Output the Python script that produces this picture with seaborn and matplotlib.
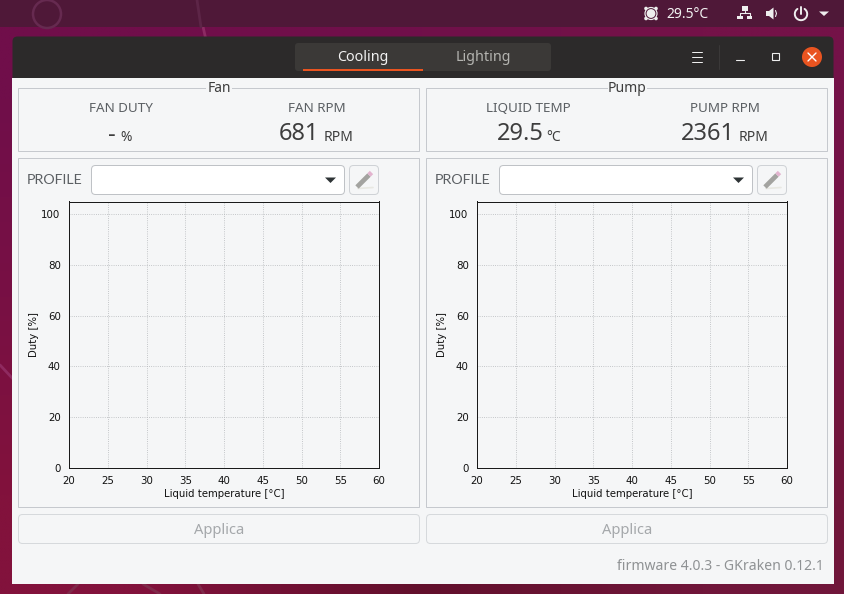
import numpy as np
import pandas as pd
import matplotlib
matplotlib.use('Agg')
import matplotlib.pyplot as plt
from matplotlib.patches import Rectangle, FancyBboxPatch, Circle, Polygon
import seaborn as sns

# curves are empty in the screenshot, no profile selected
fan_temp = []
fan_duty = []
pump_temp = []
pump_duty = []

x_ticks = [20, 25, 30, 35, 40, 45, 50, 55, 60]
y_ticks = [0, 20, 40, 60, 80, 100]

W, H = 844, 594
PANEL = '#f5f6f7'
BORDER = '#c6c9ce'
TEXT = '#3d3d3d'
LABEL = '#5b5f63'
ICON = '#eeeeee'
UI_FONT = ['Noto Sans', 'DejaVu Sans']


def box(bg, x0, y0, x1, y1, fc='none', ec='none', lw=0.72, r=0, z=2):
    if r:
        p = FancyBboxPatch((x0 + r, y0 + r), x1 - x0 - 2 * r, y1 - y0 - 2 * r,
                           boxstyle=f'round,pad={r},rounding_size={r}',
                           fc=fc, ec=ec, lw=lw, zorder=z)
    else:
        p = Rectangle((x0, y0), x1 - x0, y1 - y0, fc=fc, ec=ec, lw=lw, zorder=z)
    bg.add_patch(p)


def disc(bg, x, y, r, fc, z=3):
    bg.add_patch(Circle((x, y), r, fc=fc, ec='none', zorder=z))


def tri(bg, pts, fc, z=5):
    bg.add_patch(Polygon(pts, fc=fc, ec='none', zorder=z))


def label(bg, x, y, s, size=10, color=TEXT, ha='center', font=UI_FONT, z=5):
    bg.text(x, y, s, fontsize=size, color=color, ha=ha, va='center', family=font, zorder=z)


def draw_side(bg, off, title, gap, name1, x1, val1, vx1, unit1, ux1, name2, x2, val2, vx2, unit2, ux2):
    # top group with the title sitting on the frame
    box(bg, off + 18, 88, off + 419, 151, ec=BORDER)
    bg.add_patch(Rectangle((off + 219 - gap / 2, 84), gap, 8, fc=PANEL, ec='none', zorder=3))
    label(bg, off + 219, 88, title, size=10)
    label(bg, off + x1, 108, name1, size=9.7, color=LABEL)
    label(bg, off + x2, 108, name2, size=9.7, color=LABEL)
    label(bg, off + vx1, 134.5, val1, size=17)
    label(bg, off + vx2, 134.5, val2, size=17)
    label(bg, off + ux1, 137.5, unit1, size=10)
    label(bg, off + ux2, 137.5, unit2, size=10)
    # lower group with profile selector and chart
    box(bg, off + 18, 158, off + 419, 507, ec=BORDER)
    label(bg, off + 27, 180, 'PROFILE', size=10.3, color=LABEL, ha='left', font=['Lato', 'DejaVu Sans'])
    box(bg, off + 91.5, 165.5, off + 344.5, 194.5, fc='white', ec='#bfc2c6', r=4)
    tri(bg, [(off + 325, 177.5), (off + 336, 177.5), (off + 330.5, 183)], '#2e3436')
    box(bg, off + 349.5, 165.5, off + 378.5, 194.5, fc=PANEL, ec='#cfd2d6', r=4)
    # pencil icon
    bg.plot([off + 357, off + 369], [187, 175], color='#a3a3a0', lw=3.4, solid_capstyle='butt', zorder=5)
    bg.plot([off + 369, off + 371.5], [175, 172.5], color='#e3b4cf', lw=3.4, solid_capstyle='butt', zorder=5)
    bg.plot([off + 358, off + 373], [188.5, 187.5], color='#e8e8e2', lw=1.2, zorder=4)
    # apply button
    box(bg, off + 18.5, 514.5, off + 419.5, 543.5, fc=PANEL, ec='#d6d9dc', r=4)
    label(bg, off + 219, 530, 'Applica', size=10.6, color='#a5a8ab')


def draw_chart(fig, left, temp, duty):
    ax = fig.add_axes([left / W, 1 - 468 / H, 310 / W, 266.5 / H], zorder=3)
    ax.set_facecolor(PANEL)
    df = pd.DataFrame({'temp': temp, 'duty': duty}, dtype=float)
    sns.lineplot(data=df, x='temp', y='duty', ax=ax)
    ax.set_xlim(20, 60)
    ax.set_ylim(0, 105)
    ax.set_xticks(x_ticks)
    ax.set_yticks(y_ticks)
    ax.grid(True, color='#b4b7ba', linestyle=':', linewidth=0.6)
    ax.set_axisbelow(True)
    ax.tick_params(labelsize=7.4, length=3.5, width=0.72, pad=2.5, colors='#111111')
    ax.set_xlabel('Liquid temperature [°C]', fontsize=7.3, labelpad=2, color='#111111')
    ax.set_ylabel('Duty [%]', fontsize=7.3, labelpad=1.5, color='#111111')
    for s in ax.spines.values():
        s.set_linewidth(0.72)
        s.set_color('#1a1a1a')


def main():
    sns.set_theme(style='white')
    plt.rcParams['font.family'] = ['DejaVu Sans']

    fig = plt.figure(figsize=(W / 100, H / 100), dpi=100)
    bg = fig.add_axes([0, 0, 1, 1], zorder=1)
    bg.axis('off')

    # wallpaper
    wall = np.array([[[0x70, 0x0e, 0x4a], [0x70, 0x10, 0x4a], [0x74, 0x12, 0x48]],
                     [[0x78, 0x10, 0x44], [0x6c, 0x10, 0x3c], [0x74, 0x14, 0x42]],
                     [[0x82, 0x12, 0x3c], [0x62, 0x10, 0x2c], [0x70, 0x16, 0x3a]]]) / 255
    bg.imshow(wall, extent=(0, W, H, 0), interpolation='bilinear', aspect='auto', zorder=0)
    bg.set_xlim(0, W)
    bg.set_ylim(H, 0)
    bg.plot([197, 206], [0, 40], color='#8c2a63', lw=2, zorder=0.5)
    bg.plot([0, 14], [365, 380], color='#8f2a60', lw=2, zorder=0.5)
    bg.plot([78, 68], [584, 594], color='#7f2a4a', lw=2, zorder=0.5)
    bg.plot([143, 160], [584, 594], color='#7f2a4a', lw=2, zorder=0.5)
    bg.plot([198, 204], [584, 594], color='#7f2a4a', lw=2, zorder=0.5)

    # top bar
    box(bg, 0, 0, W, 27, fc='#4f1838', z=1)
    bg.add_patch(Circle((47, 14), 14, fc='none', ec='#662a50', lw=1.8, zorder=1.5))
    bg.plot([197, 201], [0, 27], color='#5d2547', lw=2, zorder=1.5)
    # sensor indicator
    for dx, dy in [(-5, -5), (5, -5), (-5, 5), (5, 5)]:
        disc(bg, 651 + dx, 13.5 + dy, 1.8, ICON)
    disc(bg, 651, 13.5, 6.6, ICON)
    disc(bg, 651, 13.5, 5.4, '#4f1838', z=3.1)
    disc(bg, 651, 13.5, 4.4, ICON, z=3.2)
    label(bg, 687.5, 14, '29.5°C', size=10, color='#f2f2f2')
    # network icon
    bg.add_patch(Rectangle((741.5, 6), 6, 5, fc=ICON, ec='none', zorder=3))
    bg.add_patch(Rectangle((737, 15.5), 5.5, 3.5, fc=ICON, ec='none', zorder=3))
    bg.add_patch(Rectangle((746.5, 15.5), 5.5, 3.5, fc=ICON, ec='none', zorder=3))
    bg.plot([739.5, 739.5, 749.5, 749.5], [16, 12.8, 12.8, 16], color=ICON, lw=0.8, zorder=3)
    bg.plot([744.5, 744.5], [11, 13], color=ICON, lw=0.8, zorder=3)
    # speaker icon
    tri(bg, [(766, 11), (769, 11), (773.5, 7.5), (773.5, 19.5), (769, 16), (766, 16)], ICON, z=3)
    bg.plot([775.5, 776.5, 775.5], [10.5, 13.5, 16.5], color=ICON, lw=0.8, zorder=3)
    # power icon
    th = np.radians(np.arange(35, 326, 10))
    bg.plot(801 + 6.2 * np.sin(th), 14 - 6.2 * np.cos(th), color=ICON, lw=1.4, zorder=3)
    bg.plot([801, 801], [7, 14], color=ICON, lw=1.4, zorder=3)
    tri(bg, [(819, 11.5), (829, 11.5), (824, 16)], ICON, z=3)

    # window and header bar
    box(bg, 12.5, 36.5, 833.5, 90, fc='#2c2a2a', r=5, z=1.7)
    box(bg, 12, 78, 834, 584, fc=PANEL, z=1.8)

    # stack switcher
    box(bg, 295, 43, 551, 71, fc='#3b3937', r=3, z=2)
    box(bg, 303, 69, 423, 71, fc='#e95420', z=3)
    label(bg, 362.5, 57.5, 'Cooling', size=10.3, color='#f2f2f2')
    label(bg, 483.5, 57.5, 'Lighting', size=10.3, color='#b4b4b0')

    # window buttons
    for yy in [52, 57, 61.5]:
        bg.plot([692, 702], [yy, yy], color=ICON, lw=0.72, zorder=3)
    bg.plot([718.5, 718.5], [45, 69], color='#3a3838', lw=0.72, zorder=3)
    bg.plot([736, 744], [59.5, 59.5], color=ICON, lw=0.8, zorder=3)
    bg.add_patch(Rectangle((772, 53), 7, 7, fc='none', ec=ICON, lw=0.8, zorder=3))
    disc(bg, 812, 57, 10, '#e95420')
    bg.plot([808, 816], [53, 61], color='white', lw=1, zorder=4)
    bg.plot([808, 816], [61, 53], color='white', lw=1, zorder=4)

    draw_side(bg, 0, 'Fan', 26, 'FAN DUTY', 120.5, '-', 112, '%', 126.5, 'FAN RPM', 317, '681', 299, 'RPM', 339)
    draw_side(bg, 408, 'Pump', 39, 'LIQUID TEMP', 120.5, '29.5', 112, '°C', 146, 'PUMP RPM', 316.5, '2361', 300, 'RPM', 346)

    label(bg, 824, 566, 'firmware 4.0.3 - GKraken 0.12.1', size=10.1, color='#8f9294', ha='right')

    draw_chart(fig, 69, fan_temp, fan_duty)
    draw_chart(fig, 477, pump_temp, pump_duty)

    fig.savefig('out.png', dpi=100)


if __name__ == '__main__':
    main()
